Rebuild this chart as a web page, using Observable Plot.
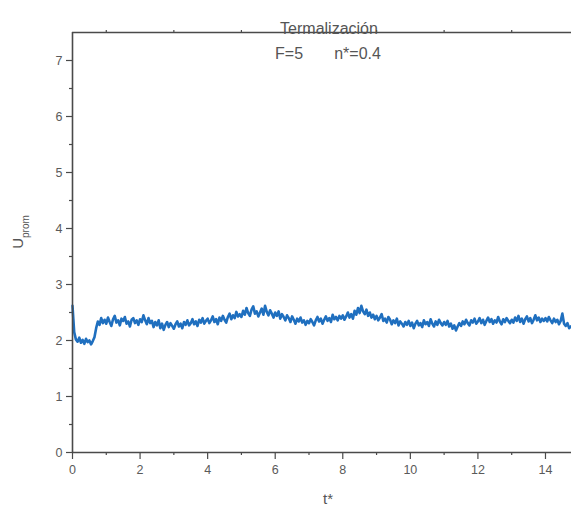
<!DOCTYPE html>
<html>
<head>
<meta charset="utf-8">
<script src="https://cdn.jsdelivr.net/npm/d3@7"></script>
<script src="https://cdn.jsdelivr.net/npm/@observablehq/plot@0.6"></script>
<style>
  html, body { margin: 0; padding: 0; background: white; }
</style>
</head>
<body>
<div id="chart"></div>
<script>
// Sampling step of the time series (t*)
const tStep = 0.05;
// U_prom values, one row per unit of t* (20 samples each)
const u0  = [2.62, 2.15, 2.02, 1.98, 2.05, 1.96, 2.01, 1.94, 2.03, 1.97, 2.00, 1.93, 1.99, 2.06, 2.22, 2.34, 2.28, 2.40, 2.31, 2.37];
const u1  = [2.30, 2.41, 2.33, 2.26, 2.38, 2.44, 2.32, 2.36, 2.27, 2.39, 2.35, 2.42, 2.30, 2.34, 2.25, 2.37, 2.40, 2.31, 2.36, 2.28];
const u2  = [2.38, 2.33, 2.45, 2.36, 2.29, 2.40, 2.31, 2.35, 2.24, 2.33, 2.27, 2.36, 2.22, 2.30, 2.19, 2.28, 2.33, 2.24, 2.31, 2.26];
const u3  = [2.21, 2.29, 2.34, 2.25, 2.30, 2.22, 2.33, 2.28, 2.36, 2.27, 2.31, 2.38, 2.29, 2.34, 2.26, 2.37, 2.32, 2.40, 2.30, 2.35];
const u4  = [2.39, 2.31, 2.36, 2.43, 2.33, 2.38, 2.29, 2.41, 2.35, 2.44, 2.37, 2.32, 2.42, 2.48, 2.38, 2.45, 2.40, 2.51, 2.43, 2.47];
const u5  = [2.42, 2.53, 2.46, 2.58, 2.49, 2.44, 2.55, 2.61, 2.48, 2.52, 2.43, 2.50, 2.57, 2.46, 2.62, 2.51, 2.45, 2.54, 2.48, 2.41];
const u6  = [2.50, 2.44, 2.52, 2.39, 2.47, 2.42, 2.36, 2.45, 2.40, 2.33, 2.43, 2.37, 2.30, 2.39, 2.34, 2.41, 2.32, 2.36, 2.28, 2.35];
const u7  = [2.31, 2.38, 2.33, 2.27, 2.36, 2.42, 2.34, 2.39, 2.30, 2.37, 2.43, 2.35, 2.40, 2.33, 2.46, 2.38, 2.42, 2.36, 2.44, 2.39];
const u8  = [2.45, 2.37, 2.43, 2.50, 2.41, 2.47, 2.39, 2.53, 2.46, 2.58, 2.49, 2.62, 2.52, 2.47, 2.55, 2.44, 2.50, 2.41, 2.46, 2.38];
const u9  = [2.44, 2.36, 2.41, 2.47, 2.35, 2.39, 2.32, 2.42, 2.37, 2.29, 2.36, 2.31, 2.39, 2.27, 2.34, 2.30, 2.25, 2.33, 2.28, 2.35];
const u10 = [2.26, 2.32, 2.22, 2.30, 2.35, 2.27, 2.31, 2.24, 2.36, 2.29, 2.33, 2.26, 2.38, 2.30, 2.25, 2.34, 2.28, 2.37, 2.31, 2.27];
const u11 = [2.33, 2.28, 2.35, 2.25, 2.30, 2.21, 2.27, 2.18, 2.25, 2.31, 2.26, 2.34, 2.29, 2.37, 2.31, 2.27, 2.36, 2.32, 2.39, 2.30];
const u12 = [2.34, 2.40, 2.31, 2.37, 2.28, 2.35, 2.41, 2.33, 2.38, 2.30, 2.36, 2.32, 2.42, 2.34, 2.29, 2.38, 2.33, 2.40, 2.35, 2.31];
const u13 = [2.37, 2.32, 2.41, 2.35, 2.44, 2.33, 2.39, 2.30, 2.38, 2.43, 2.34, 2.40, 2.31, 2.37, 2.45, 2.36, 2.41, 2.33, 2.39, 2.35];
const u14 = [2.40, 2.34, 2.42, 2.36, 2.31, 2.39, 2.33, 2.37, 2.29, 2.35, 2.48, 2.30, 2.26, 2.31, 2.22, 2.25];

// Axis ticks
const xMajorTicks = [0, 2, 4, 6, 8, 10, 12, 14];
const xMinorTicks = [1, 3, 5, 7, 9, 11, 13];
const xTopTicks = [1, 3, 5, 7, 9, 11, 13];
const yMajorTicks = [0, 1, 2, 3, 4, 5, 6, 7];
const yMinorTicks = [0.5, 1.5, 2.5, 3.5, 4.5, 5.5, 6.5];

// Texts
const titleText = "Termalización";
const subtitleText = "F=5\u00a0\u00a0\u00a0\u00a0\u00a0\u00a0\u00a0n*=0.4";
const xLabel = "t*";
const yLabelMain = "U";
const yLabelSub = "prom";

const rows = [u0, u1, u2, u3, u4, u5, u6, u7, u8, u9, u10, u11, u12, u13, u14];
const data = rows.flat().map((u, i) => ({t: +(i * tStep).toFixed(2), u}));

const axisColor = "#4a4a4a";
const font = "'Liberation Sans', Arial, sans-serif";

const plot = Plot.plot({
  width: 571,
  height: 514,
  marginLeft: 72,
  marginRight: 0,
  marginTop: 32,
  marginBottom: 62,
  x: {domain: [0, 14.77]},
  y: {domain: [0, 7.5]},
  style: {fontFamily: font, color: "#5a5a5a", background: "white", overflow: "visible"},
  marks: [
    Plot.axisX({ticks: xMajorTicks, tickSize: 7, tickPadding: 6, fontSize: 12.5, label: null, tickFormat: d => String(d), stroke: axisColor, strokeWidth: 1.2}),
    Plot.axisX({ticks: xMinorTicks, tickSize: 3, text: null, label: null, stroke: axisColor, strokeWidth: 1.2}),
    Plot.axisX({anchor: "top", ticks: xTopTicks, tickSize: 3, text: null, label: null, stroke: axisColor, strokeWidth: 1.2}),
    Plot.axisY({ticks: yMajorTicks, tickSize: 6, tickPadding: 4, fontSize: 12.5, label: null, tickFormat: d => String(d), stroke: axisColor, strokeWidth: 1.2}),
    Plot.axisY({ticks: yMinorTicks, tickSize: 3, text: null, label: null, stroke: axisColor, strokeWidth: 1.2}),
    Plot.line(data, {x: "t", y: "u", stroke: "#1f6fbf", strokeWidth: 2.6, strokeLinejoin: "round"}),
    Plot.ruleX([0], {stroke: axisColor, strokeWidth: 1.6}),
    Plot.ruleY([0, 7.5], {stroke: axisColor, strokeWidth: 1.6}),
    Plot.text([titleText], {frameAnchor: "top", dx: 7, dy: -10, fontSize: 16, fill: "#555"}),
    Plot.text([subtitleText], {frameAnchor: "top", dx: 6, dy: 15, fontSize: 16, fill: "#555"}),
    Plot.text([xLabel], {frameAnchor: "bottom", dx: 6, dy: 51, fontSize: 15, fill: "#555"})
  ]
});

const svg = d3.select(plot);
const yl = svg.append("text")
  .attr("transform", "translate(23,232) rotate(-90)")
  .attr("text-anchor", "middle")
  .attr("fill", "#555")
  .attr("font-family", font)
  .attr("font-size", 15);
yl.append("tspan").text(yLabelMain);
yl.append("tspan").attr("dy", 6).attr("font-size", 10).text(yLabelSub);

document.getElementById("chart").appendChild(plot);
</script>
</body>
</html>
